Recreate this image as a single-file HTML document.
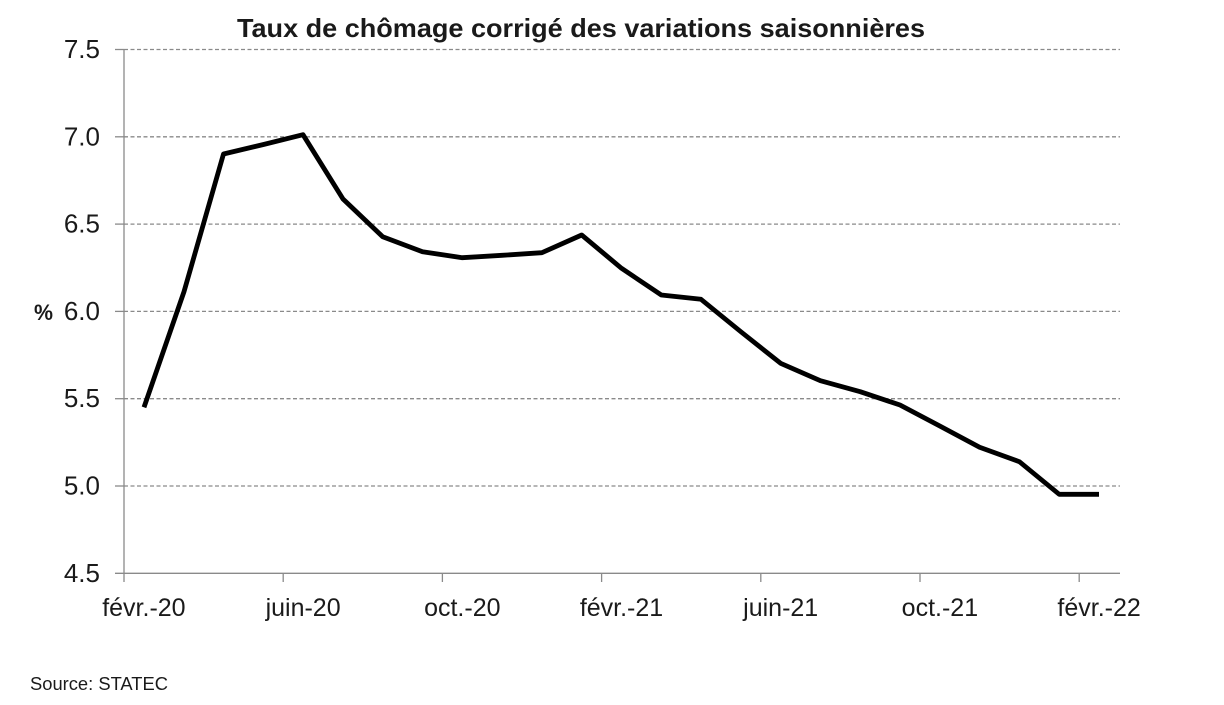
<!DOCTYPE html>
<html>
<head>
<meta charset="utf-8">
<style>
html,body{margin:0;padding:0;background:#fff;}
svg{display:block;}
text{font-family:"Liberation Sans", sans-serif; fill:#1a1a1a;}
</style>
</head>
<body>
<svg width="1224" height="705" viewBox="0 0 1224 705" xmlns="http://www.w3.org/2000/svg">
  <rect x="0" y="0" width="1224" height="705" fill="#fff"/>
  <!-- Title -->
  <text x="237" y="37" font-size="26" font-weight="bold" textLength="688" lengthAdjust="spacingAndGlyphs">Taux de chômage corrigé des variations saisonnières</text>

  <!-- gridlines -->
  <g stroke="#8a8a8a" stroke-width="1.3" stroke-dasharray="4,2.5" fill="none">
    <line x1="124" y1="49.5" x2="1120" y2="49.5"/>
    <line x1="124" y1="136.8" x2="1120" y2="136.8"/>
    <line x1="124" y1="224.1" x2="1120" y2="224.1"/>
    <line x1="124" y1="311.4" x2="1120" y2="311.4"/>
    <line x1="124" y1="398.7" x2="1120" y2="398.7"/>
    <line x1="124" y1="486" x2="1120" y2="486"/>
  </g>
  <!-- y ticks -->
  <g stroke="#8a8a8a" stroke-width="1.3">
    <line x1="115" y1="49.5" x2="124" y2="49.5"/>
    <line x1="115" y1="136.8" x2="124" y2="136.8"/>
    <line x1="115" y1="224.1" x2="124" y2="224.1"/>
    <line x1="115" y1="311.4" x2="124" y2="311.4"/>
    <line x1="115" y1="398.7" x2="124" y2="398.7"/>
    <line x1="115" y1="486" x2="124" y2="486"/>
    <line x1="115" y1="573.3" x2="1120" y2="573.3"/>
    <line x1="124" y1="49.5" x2="124" y2="582"/>
    <line x1="283.2" y1="573.3" x2="283.2" y2="582"/>
    <line x1="442.4" y1="573.3" x2="442.4" y2="582"/>
    <line x1="601.6" y1="573.3" x2="601.6" y2="582"/>
    <line x1="760.8" y1="573.3" x2="760.8" y2="582"/>
    <line x1="920" y1="573.3" x2="920" y2="582"/>
    <line x1="1079.2" y1="573.3" x2="1079.2" y2="582"/>
  </g>

  <!-- y labels -->
  <g font-size="26" text-anchor="end">
    <text x="100" y="58">7.5</text>
    <text x="100" y="145.3">7.0</text>
    <text x="100" y="232.6">6.5</text>
    <text x="100" y="319.9">6.0</text>
    <text x="100" y="407.2">5.5</text>
    <text x="100" y="494.5">5.0</text>
    <text x="100" y="581.8">4.5</text>
  </g>
  <text x="34" y="320" font-size="22" font-weight="bold" textLength="19" lengthAdjust="spacingAndGlyphs">%</text>

  <!-- x labels -->
  <g font-size="25" text-anchor="middle">
    <text x="143.9" y="616">févr.-20</text>
    <text x="303.1" y="616">juin-20</text>
    <text x="462.3" y="616">oct.-20</text>
    <text x="621.5" y="616">févr.-21</text>
    <text x="780.7" y="616">juin-21</text>
    <text x="939.9" y="616">oct.-21</text>
    <text x="1099.1" y="616">févr.-22</text>
  </g>

  <!-- series -->
  <polyline fill="none" stroke="#000" stroke-width="4.8" stroke-linejoin="round" stroke-linecap="butt"
    points="144,407.3 184,291.7 223.5,154 263.5,144.5 303,134.7 343,199 382.7,236.7 422.5,251.7 462.3,257.7 502,255.3 541.9,252.7 581.7,235 621.5,268.3 661.3,295 701,299.3 740.8,331.7 780.6,363.3 820.4,380.7 860.2,391.7 900,405 939.8,426 979.6,447.3 1019.4,461.7 1059.2,494.3 1099,494.3"/>

  <!-- source -->
  <text x="30" y="690" font-size="18" textLength="138" lengthAdjust="spacingAndGlyphs">Source: STATEC</text>
</svg>
</body>
</html>
